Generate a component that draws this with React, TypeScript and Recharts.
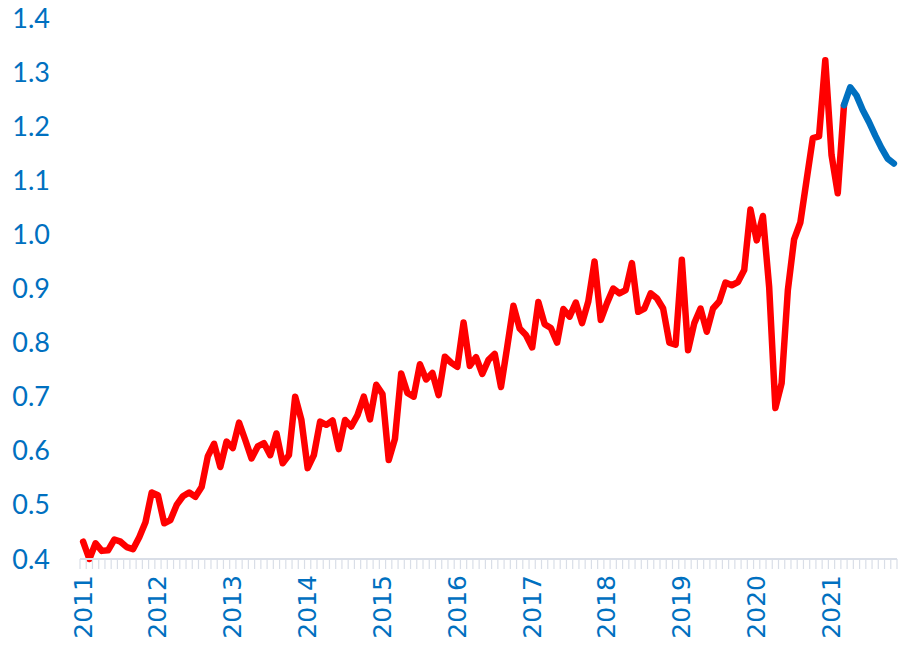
import { Line, LineChart, XAxis, YAxis } from "recharts";

const years = ["2011", "2012", "2013", "2014", "2015", "2016", "2017", "2018", "2019", "2020", "2021"];

// monthly actuals, Jan–Dec of each year
const actual2011 = [0.432, 0.4, 0.429, 0.415, 0.416, 0.436, 0.432, 0.422, 0.418, 0.44, 0.468, 0.523];
const actual2012 = [0.518, 0.466, 0.472, 0.5, 0.516, 0.523, 0.515, 0.533, 0.59, 0.613, 0.57, 0.617];
const actual2013 = [0.605, 0.652, 0.62, 0.586, 0.608, 0.614, 0.592, 0.632, 0.577, 0.592, 0.7, 0.657];
const actual2014 = [0.568, 0.592, 0.654, 0.648, 0.656, 0.603, 0.657, 0.645, 0.666, 0.7, 0.658, 0.722];
const actual2015 = [0.705, 0.583, 0.622, 0.743, 0.707, 0.7, 0.76, 0.732, 0.744, 0.703, 0.774, 0.763];
const actual2016 = [0.755, 0.837, 0.757, 0.773, 0.742, 0.768, 0.779, 0.718, 0.792, 0.868, 0.826, 0.814];
const actual2017 = [0.791, 0.875, 0.834, 0.827, 0.8, 0.862, 0.848, 0.874, 0.836, 0.876, 0.95, 0.842];
const actual2018 = [0.873, 0.9, 0.891, 0.897, 0.947, 0.857, 0.863, 0.891, 0.882, 0.863, 0.8, 0.796];
const actual2019 = [0.953, 0.786, 0.836, 0.863, 0.82, 0.863, 0.876, 0.911, 0.906, 0.912, 0.934, 1.046];
const actual2020 = [0.989, 1.034, 0.903, 0.679, 0.725, 0.897, 0.991, 1.022, 1.1, 1.178, 1.181, 1.322];
const actual2021 = [1.147, 1.076, 1.239]; // Jan–Mar

// forecast Mar–Nov 2021 (starts on the last actual point)
const forecast2021 = [1.239, 1.272, 1.257, 1.23, 1.208, 1.183, 1.16, 1.14, 1.131];

const yTicks = [0.4, 0.5, 0.6, 0.7, 0.8, 0.9, 1.0, 1.1, 1.2, 1.3, 1.4];

const actual = [
  ...actual2011, ...actual2012, ...actual2013, ...actual2014, ...actual2015, ...actual2016,
  ...actual2017, ...actual2018, ...actual2019, ...actual2020, ...actual2021,
];
const forecastStart = actual.length - 1;
const monthCount = forecastStart + forecast2021.length;

const rows = Array.from({ length: monthCount }, (_, i) => ({
  m: i,
  actual: i < actual.length ? actual[i] : null,
  forecast: i >= forecastStart ? forecast2021[i - forecastStart] : null,
}));

const monthEdges = Array.from({ length: monthCount + 1 }, (_, i) => i - 0.5);
const yearTicks = years.map((_, i) => i * 12);

const BLUE = "#0070C0";
const GRID = "#D9DEE7";

function YearTick({ x, y, payload }: any) {
  return (
    <text
      transform={`translate(${x},${y}) rotate(-90)`}
      textAnchor="end"
      dominantBaseline="central"
      fill={BLUE}
      fontSize={25}
      fontFamily="DejaVu Sans"
    >
      {years[Math.round(payload.value / 12)]}
    </text>
  );
}

export default function App() {
  return (
    <div style={{ position: "absolute", left: 0, top: 0, background: "#fff" }}>
      <LineChart
        width={899}
        height={646}
        data={rows}
        margin={{ top: 18, right: 2, bottom: 0, left: 0 }}
      >
        <XAxis
          xAxisId="months"
          dataKey="m"
          type="number"
          domain={[-0.5, monthCount - 0.5]}
          ticks={monthEdges}
          interval={0}
          tickFormatter={() => ""}
          height={11}
          tickSize={10}
          axisLine={{ stroke: GRID, strokeWidth: 2 }}
          tickLine={{ stroke: GRID, strokeWidth: 1.2 }}
        />
        <XAxis
          xAxisId="years"
          dataKey="m"
          type="number"
          domain={[-0.5, monthCount - 0.5]}
          ticks={yearTicks}
          interval={0}
          height={76}
          tickSize={0}
          tickMargin={5}
          axisLine={false}
          tickLine={false}
          tick={<YearTick />}
        />
        <YAxis
          domain={[0.4, 1.4]}
          ticks={yTicks}
          interval={0}
          width={80}
          axisLine={false}
          tickLine={false}
          tickSize={0}
          tickMargin={30}
          tickFormatter={(v: number) => v.toFixed(1)}
          tick={{ fill: BLUE, fontSize: 27, fontFamily: "Lato" }}
        />
        <Line
          xAxisId="months"
          dataKey="actual"
          type="linear"
          stroke="#FF0000"
          strokeWidth={6.5}
          strokeLinejoin="round"
          strokeLinecap="round"
          dot={false}
          connectNulls={false}
          isAnimationActive={false}
        />
        <Line
          xAxisId="months"
          dataKey="forecast"
          type="linear"
          stroke={BLUE}
          strokeWidth={6.5}
          strokeLinejoin="round"
          strokeLinecap="round"
          dot={false}
          isAnimationActive={false}
        />
      </LineChart>
    </div>
  );
}
